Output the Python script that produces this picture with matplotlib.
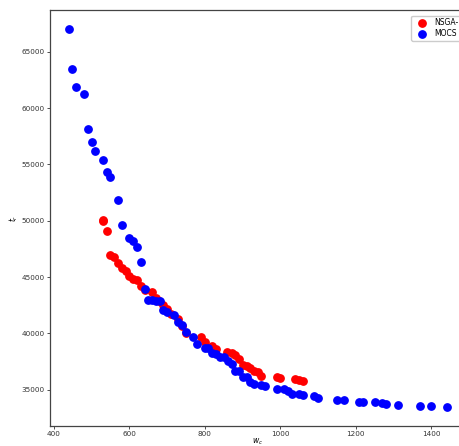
import matplotlib.pyplot as plt
import numpy as np

# NSGA-II front (red)
nsga_x = [530, 532, 541, 550, 561, 570, 581, 591, 601, 611, 620, 631, 641, 661, 671,
          680, 691, 701, 710, 730, 740, 750, 790, 800, 820, 830, 860, 872, 881, 891,
          901, 912, 920, 930, 941, 950, 991, 1001, 1040, 1050, 1061]
nsga_y = [50010, 50100, 49060, 46990, 46750, 46250, 45810, 45510, 45120, 44830, 44740,
          44170, 43880, 43700, 43110, 42840, 42490, 42170, 41720, 41280, 40620, 40040,
          39680, 39260, 38930, 38640, 38350, 38260, 38080, 37780, 37220, 37130, 36930,
          36710, 36570, 36240, 36150, 36040, 35980, 35890, 35770]

# MOCS front (blue)
mocs_x = [440, 450, 460, 481, 491, 501, 511, 530, 541, 550, 570, 581, 600, 610, 620,
          631, 641, 651, 660, 671, 681, 690, 701, 719, 730, 740, 751, 770, 780, 800,
          810, 820, 830, 841, 851, 861, 872, 881, 891, 901, 912, 920, 930, 950, 960,
          991, 1011, 1021, 1031, 1050, 1061, 1091, 1101, 1150, 1170, 1210, 1221, 1251,
          1271, 1281, 1312, 1371, 1401, 1442]
mocs_y = [67030, 63500, 61850, 61220, 58180, 57000, 56220, 55420, 54330, 53850, 51870,
          49590, 48470, 48200, 47640, 46300, 43940, 42930, 42930, 42840, 42840, 42100,
          41900, 41600, 41040, 40770, 40120, 39680, 39110, 38670, 38670, 38310, 38170,
          37870, 37870, 37600, 37280, 36690, 36690, 36180, 36180, 35710, 35510, 35470,
          35350, 35090, 35060, 34910, 34620, 34650, 34500, 34440, 34260, 34090, 34090,
          33930, 33930, 33930, 33870, 33730, 33670, 33610, 33580, 33490]

fig = plt.figure(figsize=(4.59, 4.46), dpi=100)
ax = fig.add_axes([0.109, 0.045, 0.904, 0.932])

ax.scatter(nsga_x, nsga_y, s=28, color="red", label="NSGA-II", zorder=3)
ax.scatter(mocs_x, mocs_y, s=28, color="blue", label="MOCS", zorder=3)

ax.set_xlim(390.7, 1490)
ax.set_ylim(31800, 68670)
ax.set_xticks(np.arange(400, 1401, 200))
ax.set_yticks(np.arange(35000, 65001, 5000))
ax.tick_params(labelsize=5.2, colors="#333333", length=2.5, width=0.6, pad=1.5)
for spine in ax.spines.values():
    spine.set_color("#444444")
    spine.set_linewidth(0.9)

ax.set_xlabel("$w_c$", fontsize=5.5, labelpad=-1)
ax.set_ylabel("$t_r$", fontsize=5.5, labelpad=1)

ax.legend(loc="upper right", bbox_to_anchor=(1.012, 0.996), fontsize=5.5,
          handletextpad=0.7, borderpad=0.35, labelspacing=0.2, framealpha=1,
          edgecolor="#cccccc")

fig.savefig("out.png", dpi=100)
